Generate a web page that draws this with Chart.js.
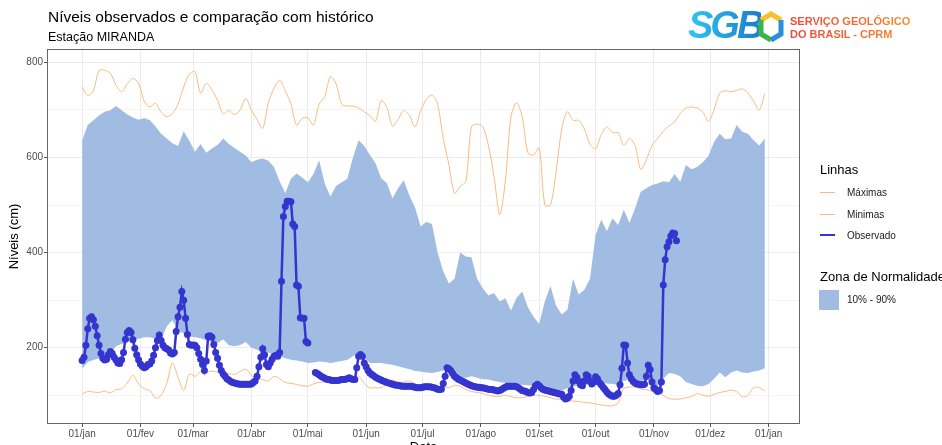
<!DOCTYPE html>
<html lang="pt-BR">
<head>
<meta charset="utf-8">
<title>Níveis observados - Estação MIRANDA</title>
<script src="https://cdn.jsdelivr.net/npm/chart.js@4.4.0/dist/chart.umd.min.js"></script>
<style>
  html, body { margin: 0; padding: 0; background: #fff; overflow: hidden; }
  #wrap { position: relative; width: 942px; height: 445px; overflow: hidden;
          font-family: "Liberation Sans", Arial, sans-serif; color: #000; }
  #chart1 { position: absolute; left: 0; top: 0; }
  .abs { position: absolute; white-space: nowrap; }
  #title { left: 48px; top: 8px; font-size: 15.5px; }
  #subtitle { left: 48px; top: 30px; font-size: 12.5px; }
  #sgb { left: 688px; top: 4px; font-size: 38px; font-weight: 900; font-style: italic; letter-spacing: -3px;
         background: linear-gradient(90deg, #2fc6f4, #1d7cc8); -webkit-background-clip: text; background-clip: text; color: transparent; }
  #hexa { left: 757px; top: 11px; }
  #org { left: 790px; top: 15px; font-size: 11px; line-height: 12.5px; font-weight: bold;
         background: linear-gradient(90deg, #f2453a, #f58a2b); -webkit-background-clip: text; background-clip: text; color: transparent; }
  .legTitle { font-size: 13px; }
  .legText { font-size: 10px; color: #1a1a1a; }
  .key { position: absolute; width: 15px; height: 0; }
</style>
</head>
<body>
<div id="wrap">
  <canvas id="chart1" width="942" height="460"></canvas>

  <div id="title" class="abs">Níveis observados e comparação com histórico</div>
  <div id="subtitle" class="abs">Estação MIRANDA</div>

  <div id="sgb" class="abs">SGB</div>
  <svg id="hexa" class="abs" width="28" height="32" viewBox="0 0 28 32">
    <polyline points="4,9 14,3 24,9" fill="none" stroke="#f6c22b" stroke-width="5"/>
    <polyline points="4,9 4,23 14,29" fill="none" stroke="#39b54a" stroke-width="5"/>
    <polyline points="24,9 24,23 14,29" fill="none" stroke="#2a8fd6" stroke-width="5"/>
  </svg>
  <div id="org" class="abs">SERVIÇO GEOLÓGICO<br>DO BRASIL - CPRM</div>

  <div class="abs legTitle" style="left:820px; top:162px;">Linhas</div>
  <div class="key" style="left:820px; top:192px; border-top:1px solid rgb(249,186,128);"></div>
  <div class="abs legText" style="left:847px; top:187px;">Máximas</div>
  <div class="key" style="left:820px; top:214px; border-top:1px solid rgb(249,186,128);"></div>
  <div class="abs legText" style="left:847px; top:209px;">Minimas</div>
  <div class="key" style="left:820px; top:234px; border-top:2.5px solid #3434cf;"></div>
  <div class="abs legText" style="left:847px; top:230px;">Observado</div>

  <div class="abs legTitle" style="left:820px; top:269px;">Zona de Normalidade</div>
  <div class="abs" style="left:819px; top:290px; width:20px; height:20px; background:rgb(161,188,227);"></div>
  <div class="abs legText" style="left:847px; top:294px;">10% - 90%</div>
</div>

<script>
// eixo x: dia do ano (0 = 01/jan)
const monthDays = [0, 31, 59, 90, 120, 151, 181, 212, 243, 273, 304, 334, 365];
const monthLabels = ['01/jan', '01/fev', '01/mar', '01/abr', '01/mai', '01/jun', '01/jul',
                     '01/ago', '01/set', '01/out', '01/nov', '01/dez', '01/jan'];
const levelTicks = [100, 200, 300, 400, 500, 600, 700, 800];
const levelLabels = ['', '200', '', '400', '', '600', '', '800'];

// histórico, um valor a cada 3 dias
const histDays = [0,3,6,9,12,15,18,21,24,27,30,33,36,39,42,45,48,51,54,57,60,63,66,69,72,75,78,81,84,87,90,
  93,96,99,102,105,108,111,114,117,120,123,126,129,132,135,138,141,144,147,150,153,156,159,162,165,168,171,174,177,180,183,
  186,189,192,195,198,201,204,207,210,213,216,219,222,225,228,231,234,237,240,243,246,249,252,255,258,261,264,267,270,273,276,
  279,282,285,288,291,294,297,300,303,306,309,312,315,318,321,324,327,330,333,336,339,342,345,348,351,354,357,360,363];

// percentil 90 (limite superior da zona de normalidade)
const histHigh = [636,668,678,688,696,699,708,699,690,684,679,683,678,665,650,640,630,624,655,635,612,628,610,619,626,640,628,620,612,604,590,
  595,598,593,580,550,525,555,566,558,548,565,594,545,518,540,548,555,600,636,624,605,588,556,546,514,535,552,520,495,455,465,
  460,400,360,335,345,400,392,390,345,325,310,315,297,304,278,305,318,285,265,250,297,330,288,270,280,345,312,322,345,437,469,
  445,472,458,490,462,493,528,535,542,545,550,548,565,549,584,575,580,590,603,633,650,638,640,668,654,650,636,625,640];

// percentil 10 (limite inferior)
const histLow = [156,170,174,178,183,189,203,208,212,217,219,222,222,219,218,245,258,236,230,224,222,220,215,212,210,218,205,203,206,212,200,
  196,192,190,186,182,178,175,173,171,168,169,171,170,168,170,172,175,182,190,180,168,168,168,166,164,161,158,155,151,150,148,
  147,149,152,150,141,139,137,140,137,134,133,130,128,126,124,123,122,121,120,119,116,113,109,110,115,119,120,121,122,124,126,
  125,124,122,130,133,130,130,133,126,119,135,147,145,140,128,124,120,119,124,135,148,138,148,152,148,147,150,152,157];

// máximas históricas
const histMax = [748,730,740,783,783,777,752,738,755,766,756,718,706,714,695,686,692,712,748,775,780,735,756,742,720,692,699,690,700,724,700,
  680,661,715,745,762,740,712,668,682,683,668,712,728,770,755,712,708,708,704,696,688,676,720,705,666,680,699,688,664,698,722,
  731,712,640,585,525,539,550,665,670,665,625,560,480,549,685,715,685,610,605,620,500,500,570,660,696,678,678,660,628,618,648,
  664,652,652,625,640,625,575,595,625,640,655,666,675,692,704,706,704,695,676,700,735,740,738,741,744,735,718,700,734];

// mínimas históricas
const histMin = [103,108,107,106,109,105,112,114,126,142,124,114,110,94,100,125,168,138,110,145,140,150,148,151,149,147,146,144,150,155,142,
  135,133,130,140,135,127,125,123,120,119,124,127,128,130,132,135,137,138,140,125,116,116,116,125,132,127,128,130,124,119,119,
  119,118,117,116,121,119,112,108,106,104,100,98,98,100,97,95,95,98,100,100,98,95,92,92,90,88,87,85,84,82,80,
  78,78,84,115,117,118,113,112,108,106,100,93,92,92,95,97,104,100,98,102,106,108,111,108,97,100,116,116,109];

// nível observado, diário a partir de 01/jan (null = sem leitura)
const obsLevels = [
  173,180,205,240,262,265,259,245,225,205,
  188,178,174,176,185,192,188,180,174,168,
  167,175,190,218,232,236,232,217,199,185,
  175,166,161,158,160,165,166,172,184,200,
  215,227,215,205,200,198,195,189,187,190,
  234,265,285,318,300,262,228,207,205,206,
  205,200,188,176,165,152,172,224,225,222,
  207,190,178,163,152,145,140,135,132,129,
  127,126,125,124,123,123,123,123,123,123,
  124,127,130,140,160,180,198,185,165,160,
  168,176,182,184,182,190,340,476,497,508,
  508,507,460,455,332,329,263,262,262,213,
  210,null,null,null,148,146,143,140,138,136,
  134,133,132,131,131,131,131,132,133,133,
  134,135,137,135,133,133,158,182,186,182,
  168,160,152,147,144,141,138,136,134,132,
  130,129,127,126,125,123,122,121,121,120,
  119,119,119,119,119,119,118,117,116,116,
  116,117,118,118,118,118,117,116,115,113,
  112,113,125,140,158,156,152,146,140,137,
  134,132,130,128,126,124,122,120,119,118,
  117,117,116,116,115,114,113,112,112,111,
  110,109,110,112,115,117,119,119,119,119,
  119,118,116,113,110,109,108,106,105,106,
  112,120,123,120,116,113,111,110,109,108,
  107,106,105,104,103,102,96,92,94,98,
  110,130,143,138,130,122,120,130,143,140,
  130,124,128,139,135,127,122,117,112,107,
  103,100,98,98,100,104,122,157,206,205,
  168,143,135,129,126,124,123,122,122,123,
  140,163,154,128,116,112,108,110,128,332,
  385,412,423,435,441,440,425];

const ColorObs = '#3434cf';
const ColorHist = 'rgb(249,186,128)';
const ColorZone = 'rgb(161,188,227)';

Chart.defaults.font.family = '"Liberation Sans", Arial, sans-serif';

const toPoints = (days, vals) => vals.map((v, i) => ({x: days[i], y: v}));
const obsPoints = obsLevels.map((v, i) => ({x: i, y: v}));

//moldura do painel
const panelBorder = {
  id: 'panelBorder',
  afterDraw(chart) {
    const {ctx, chartArea: a} = chart;
    ctx.save();
    ctx.strokeStyle = '#666';
    ctx.lineWidth = 1;
    ctx.strokeRect(a.left - 0.5, a.top - 0.5, a.right - a.left + 1, a.bottom - a.top + 1);
    ctx.restore();
  }
};

new Chart('chart1', {
  type: 'line',
  data: {
    datasets: [
      {
        label: 'Observado',
        data: obsPoints,
        borderColor: ColorObs,
        backgroundColor: ColorObs,
        borderWidth: 2.5,
        pointRadius: 3.5,
        pointBorderWidth: 0,
        pointBackgroundColor: ColorObs,
        spanGaps: false,
        fill: false,
        order: 0
      },
      {
        label: 'Máximas',
        data: toPoints(histDays, histMax),
        borderColor: ColorHist,
        borderWidth: 1,
        pointRadius: 0,
        tension: 0.3,
        fill: false,
        order: 1
      },
      {
        label: 'Minimas',
        data: toPoints(histDays, histMin),
        borderColor: ColorHist,
        borderWidth: 1,
        pointRadius: 0,
        tension: 0.3,
        fill: false,
        order: 1
      },
      {
        label: 'P10',
        data: toPoints(histDays, histLow),
        borderWidth: 0,
        borderColor: 'rgba(0,0,0,0)',
        pointRadius: 0,
        fill: false,
        order: 3
      },
      {
        label: '10% - 90%',
        data: toPoints(histDays, histHigh),
        borderWidth: 0,
        borderColor: 'rgba(0,0,0,0)',
        backgroundColor: ColorZone,
        pointRadius: 0,
        fill: 3,
        order: 2
      }
    ]
  },
  options: {
    responsive: false,
    animation: false,
    events: [],
    layout: { padding: { left: 0, right: 143, top: 50, bottom: 0 } },
    plugins: {
      legend: { display: false },
      title: { display: false },
      tooltip: { enabled: false }
    },
    scales: {
      x: {
        type: 'linear',
        min: -18.15,
        max: 381.15,
        afterFit: s => { s.height = 37; },
        afterBuildTicks: s => { s.ticks = monthDays.map(v => ({value: v})); },
        ticks: {
          autoSkip: false,
          maxRotation: 0,
          padding: 1,
          color: '#4d4d4d',
          font: { size: 10 },
          callback: (v, i) => monthLabels[i]
        },
        grid: {
          color: '#ebebeb',
          lineWidth: 1,
          tickLength: 4,
          tickColor: '#555'
        },
        border: { display: false },
        title: {
          display: true,
          text: 'Data',
          color: '#000',
          font: { size: 13 },
          padding: { top: 0, bottom: 5 }
        }
      },
      y: {
        type: 'linear',
        min: 41.8,
        max: 825.8,
        afterFit: s => { s.width = 48; },
        afterBuildTicks: s => { s.ticks = levelTicks.map(v => ({value: v})); },
        ticks: {
          padding: 1,
          color: '#4d4d4d',
          font: { size: 10 },
          callback: (v, i) => levelLabels[i]
        },
        grid: {
          color: ctx => (ctx.tick && ctx.tick.value % 200 === 0) ? '#ebebeb' : '#f5f5f5',
          lineWidth: 1,
          tickLength: 4,
          tickColor: ctx => (ctx.tick && ctx.tick.value % 200 === 0) ? '#555' : 'rgba(0,0,0,0)'
        },
        border: { display: false },
        title: {
          display: true,
          text: 'Níveis (cm)',
          color: '#000',
          font: { size: 13 },
          padding: { top: 7, bottom: 0 }
        }
      }
    }
  },
  plugins: [panelBorder]
});
</script>
</body>
</html>
